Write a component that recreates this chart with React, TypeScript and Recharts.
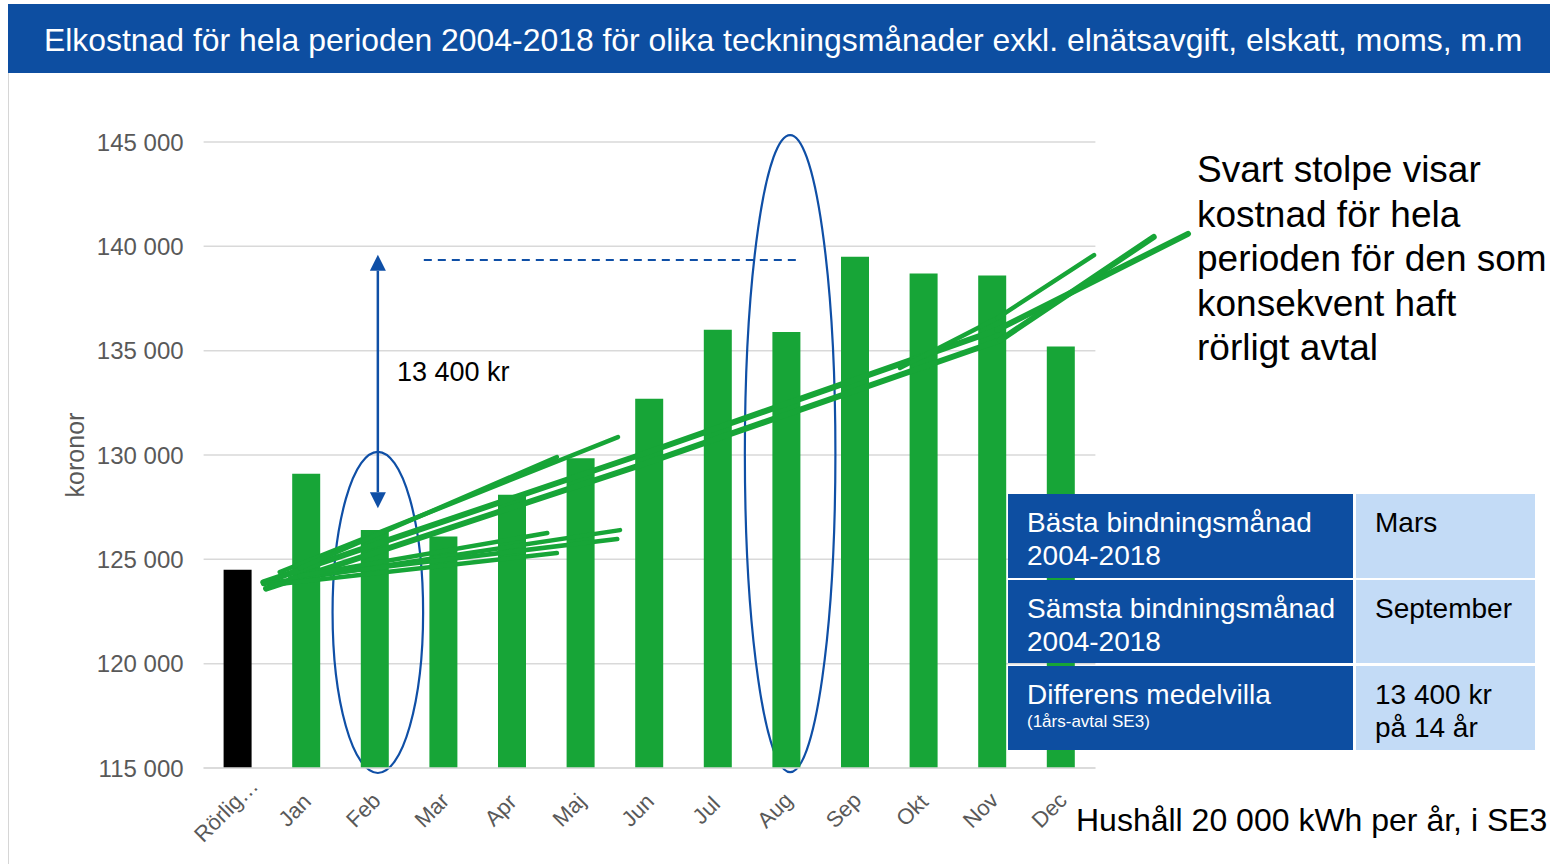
import React from 'react';
import {
  BarChart,
  Bar,
  XAxis,
  YAxis,
  CartesianGrid,
  Cell,
  ReferenceLine,
  ReferenceArea
} from 'recharts';

const categories = ['Rörlig…', 'Jan', 'Feb', 'Mar', 'Apr', 'Maj', 'Jun', 'Jul', 'Aug', 'Sep', 'Okt', 'Nov', 'Dec'];
const costs = [124500, 129100, 126400, 126100, 128100, 129850, 132700, 136000, 135900, 139500, 138700, 138600, 135200];
const yTicks = [115000, 120000, 125000, 130000, 135000, 140000, 145000];

// hand drawn marks. x: 0 = left edge of plot, category i is centred at i + 0.5. y = kronor
const scribbles: [number, number][][] = [
  [[0.87, 123900], [6.36, 130000], [11.57, 136000], [14.35, 140600]],
  [[0.91, 123600], [6.36, 129500], [11.61, 135500], [13.85, 140450]],
  [[10.15, 134170], [11.57, 136560], [12.98, 139580]],
  [[1.11, 124390], [6.04, 130860]],
  [[1.4, 124580], [5.15, 129900]],
  [[0.87, 123820], [6.07, 126400]],
  [[1.26, 124100], [6.03, 125970]],
  [[1.4, 124200], [5.01, 126260]],
  [[0.97, 123770], [5.15, 125300]]
];
const arrowFrom = [2.54, 127450];
const arrowTo = [2.54, 139600];
const dashedLevel = { x1: 3.21, x2: 8.72, y: 139350 };
const circled = [
  { x1: 1.88, x2: 3.2, y1: 114760, y2: 130150 },
  { x1: 7.89, x2: 9.21, y1: 114800, y2: 145330 }
];

const data = categories.map((name, i) => ({ name, cost: costs[i] }));

// the hidden numeric axis spans the index range 0..n-1 over the plot width
const NUM_MAX = categories.length - 1;
const bx = (n: number) => (n * NUM_MAX) / categories.length;

const FONT = '"Liberation Sans", Arial, sans-serif';
const GREEN = '#17a537';
const BLUE = '#0d4ea1';
const LINE_BLUE = '#0f4fa6';

const fmt = (v: number) => String(v).replace(/\B(?=(\d{3})+(?!\d))/g, ' ');

function MonthTick({ x, y, payload }: any) {
  return (
    <g transform={`translate(${x - 12},${y + 34})`}>
      <text textAnchor="middle" dy="0.35em" transform="rotate(-45)" fill="#595959" fontSize={22} fontFamily={FONT}>
        {payload.value}
      </text>
    </g>
  );
}

function ArrowShape(props: any) {
  const { x1, y1, x2, y2 } = props;
  const top = Math.min(y1, y2);
  const bottom = Math.max(y1, y2);
  const h = 16;
  const w = 8;
  return (
    <g>
      <line x1={x1} y1={top + h} x2={x2} y2={bottom - h} stroke={LINE_BLUE} strokeWidth={2.5} />
      <polygon points={`${x1},${top} ${x1 - w},${top + h} ${x1 + w},${top + h}`} fill={LINE_BLUE} />
      <polygon points={`${x1},${bottom} ${x1 - w},${bottom - h} ${x1 + w},${bottom - h}`} fill={LINE_BLUE} />
    </g>
  );
}

function EllipseShape(props: any) {
  const { x, y, width, height } = props;
  return (
    <ellipse
      cx={x + width / 2}
      cy={y + height / 2}
      rx={Math.abs(width) / 2}
      ry={Math.abs(height) / 2}
      fill="none"
      stroke={LINE_BLUE}
      strokeWidth={2.2}
    />
  );
}

const cellLeft: React.CSSProperties = {
  position: 'absolute',
  left: 1008,
  width: 345,
  background: BLUE,
  color: '#fff',
  boxSizing: 'border-box',
  padding: '12px 0 0 19px',
  fontSize: 28,
  lineHeight: '33px'
};
const cellRight: React.CSSProperties = {
  position: 'absolute',
  left: 1356,
  width: 179,
  background: '#c3dbf6',
  color: '#000',
  boxSizing: 'border-box',
  padding: '12px 0 0 19px',
  fontSize: 28,
  lineHeight: '33px'
};

export default function App() {
  return (
    <div
      style={{
        position: 'absolute',
        left: 0,
        top: 0,
        width: 1550,
        height: 864,
        background: '#fff',
        overflow: 'hidden',
        fontFamily: FONT
      }}
    >
      <div style={{ position: 'absolute', left: 8, top: 73, width: 1, height: 791, background: '#d6d6d6' }} />
      <div
        style={{
          position: 'absolute',
          left: 8,
          top: 4,
          width: 1542,
          height: 69,
          background: BLUE,
          color: '#fff',
          fontSize: 31.9,
          lineHeight: '72px',
          paddingLeft: 36,
          boxSizing: 'border-box',
          whiteSpace: 'nowrap'
        }}
      >
        Elkostnad för hela perioden 2004-2018 för olika teckningsmånader exkl. elnätsavgift, elskatt, moms, m.m
      </div>

      <div style={{ position: 'absolute', left: 0, top: 0 }}>
        <BarChart
          width={1200}
          height={864}
          data={data}
          margin={{ top: 142, right: 104.6, left: 83.6, bottom: 16 }}
          barSize={28}
        >
          <CartesianGrid vertical={false} stroke="#d9d9d9" strokeWidth={1.5} />
          <XAxis
            dataKey="name"
            interval={0}
            tickLine={false}
            axisLine={{ stroke: '#d9d9d9', strokeWidth: 1.5 }}
            height={80}
            tick={<MonthTick />}
          />
          <XAxis xAxisId="num" type="number" domain={[0, NUM_MAX]} allowDataOverflow hide />
          <YAxis
            domain={[115000, 145000]}
            ticks={yTicks}
            tickFormatter={fmt}
            axisLine={false}
            tickLine={false}
            tickMargin={14}
            width={120}
            tick={{ fill: '#595959', fontSize: 24, fontFamily: FONT }}
          />
          <Bar dataKey="cost" isAnimationActive={false}>
            {data.map((d, i) => (
              <Cell key={d.name} fill={i === 0 ? '#000000' : GREEN} />
            ))}
          </Bar>
          {scribbles.flatMap((pts, si) =>
            pts.slice(1).map((p, pi) => (
              <ReferenceLine
                key={`s-${si}-${pi}`}
                xAxisId="num"
                ifOverflow="visible"
                segment={[
                  { x: bx(pts[pi][0]), y: pts[pi][1] },
                  { x: bx(p[0]), y: p[1] }
                ]}
                stroke={GREEN}
                strokeWidth={si < 2 ? 6 : 4.5}
                strokeLinecap="round"
              />
            ))
          )}
          {circled.map((c, i) => (
            <ReferenceArea
              key={`c-${i}`}
              xAxisId="num"
              x1={bx(c.x1)}
              x2={bx(c.x2)}
              y1={c.y1}
              y2={c.y2}
              ifOverflow="visible"
              shape={<EllipseShape />}
            />
          ))}
          <ReferenceLine
            xAxisId="num"
            ifOverflow="visible"
            segment={[
              { x: bx(dashedLevel.x1), y: dashedLevel.y },
              { x: bx(dashedLevel.x2), y: dashedLevel.y }
            ]}
            stroke={LINE_BLUE}
            strokeWidth={2}
            strokeDasharray="8 6"
          />
          <ReferenceLine
            xAxisId="num"
            ifOverflow="visible"
            segment={[
              { x: bx(arrowFrom[0]), y: arrowFrom[1] },
              { x: bx(arrowTo[0]), y: arrowTo[1] }
            ]}
            shape={ArrowShape}
          />
        </BarChart>
      </div>

      <div
        style={{
          position: 'absolute',
          left: 75,
          top: 455,
          transform: 'translate(-50%, -50%) rotate(-90deg)',
          fontSize: 25,
          color: '#595959',
          whiteSpace: 'nowrap'
        }}
      >
        koronor
      </div>

      <div style={{ position: 'absolute', left: 397, top: 357, fontSize: 27, color: '#000', whiteSpace: 'nowrap' }}>
        13 400 kr
      </div>

      <div
        style={{
          position: 'absolute',
          left: 1197,
          top: 148,
          fontSize: 37,
          lineHeight: '44.5px',
          color: '#000',
          whiteSpace: 'nowrap'
        }}
      >
        Svart stolpe visar
        <br />
        kostnad för hela
        <br />
        perioden för den som
        <br />
        konsekvent haft
        <br />
        rörligt avtal
      </div>

      <div style={{ ...cellLeft, top: 494, height: 84 }}>
        Bästa bindningsmånad
        <br />
        2004-2018
      </div>
      <div style={{ ...cellRight, top: 494, height: 84 }}>Mars</div>
      <div style={{ ...cellLeft, top: 580, height: 83 }}>
        Sämsta bindningsmånad
        <br />
        2004-2018
      </div>
      <div style={{ ...cellRight, top: 580, height: 83 }}>September</div>
      <div style={{ ...cellLeft, top: 666, height: 84 }}>
        Differens medelvilla
        <div style={{ fontSize: 17, lineHeight: '22px' }}>(1års-avtal SE3)</div>
      </div>
      <div style={{ ...cellRight, top: 666, height: 84 }}>
        13 400 kr
        <br />
        på 14 år
      </div>

      <div style={{ position: 'absolute', left: 1076, top: 802, fontSize: 32, color: '#000', whiteSpace: 'nowrap' }}>
        Hushåll 20 000 kWh per år, i SE3
      </div>
    </div>
  );
}
